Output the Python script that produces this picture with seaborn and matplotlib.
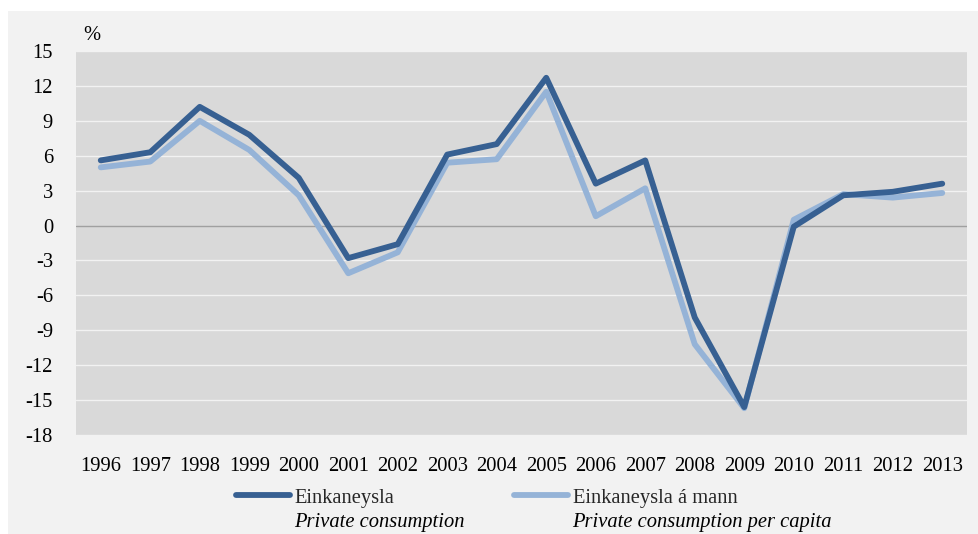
import matplotlib
matplotlib.use("Agg")
import matplotlib.pyplot as plt
import seaborn as sns
import pandas as pd
from matplotlib.patches import Rectangle
from matplotlib.lines import Line2D

years = list(range(1996, 2014))
einkaneysla = [5.6, 6.3, 10.2, 7.8, 4.1, -2.8, -1.6, 6.1, 7.0, 12.7, 3.6, 5.6, -7.9, -15.6, -0.1, 2.6, 2.9, 3.6]
einkaneysla_mann = [5.0, 5.5, 9.0, 6.5, 2.6, -4.1, -2.3, 5.4, 5.7, 11.5, 0.8, 3.2, -10.2, -15.7, 0.5, 2.7, 2.4, 2.8]
series_names = ["Einkaneysla", "Einkaneysla á mann"]
series_en = ["Private consumption", "Private consumption per capita"]
yticks = list(range(-18, 16, 3))

df = pd.DataFrame({
    "year": years * 2,
    "value": einkaneysla + einkaneysla_mann,
    "series": [series_names[0]] * len(years) + [series_names[1]] * len(years),
})

sns.set_theme(style="white")
plt.rcParams["font.family"] = ["Liberation Serif", "DejaVu Serif"]

W, H = 979, 534
FS = 14.8
fig = plt.figure(figsize=(W / 100, H / 100), dpi=100, facecolor="white")
fig.patches.append(Rectangle((8 / W, 0), 1 - 8 / W, 1 - 11 / H, transform=fig.transFigure,
                             facecolor="#f2f2f2", edgecolor="none", zorder=-10))

ax = fig.add_axes([76 / W, (H - 435) / H, (967 - 76) / W, (435 - 51) / H])
ax.set_facecolor("#d9d9d9")

for y in yticks:
    if y == 0:
        ax.axhline(y, color="#a0a0a0", lw=1.0, zorder=1)
    else:
        ax.axhline(y, color="#f2f2f2", lw=1.0, zorder=1)

palette = {series_names[0]: "#376092", series_names[1]: "#95b3d7"}
sns.lineplot(data=df, x="year", y="value", hue="series", palette=palette,
             hue_order=series_names[::-1], linewidth=4.2, ax=ax, zorder=3, legend=False)

ax.set_xlim(1995.5, 2013.5)
ax.set_ylim(-18, 15)
ax.set_yticks(yticks)
ax.set_yticklabels([str(v) for v in yticks])
ax.set_xticks(years)
ax.set_xticklabels([str(y) for y in years])
ax.tick_params(axis="both", length=0, labelsize=FS, colors="black")
ax.tick_params(axis="y", pad=16.5)
ax.tick_params(axis="x", pad=15.5)
ax.set_xlabel("")
ax.set_ylabel("")
for s in ax.spines.values():
    s.set_visible(False)

fig.text(83 / W, 1 - 36 / H, "%", fontsize=FS, ha="left", va="center", color="black")

# legend: one legend per series, with English italic subtitle beneath
handle_x = [236, 514]
text_x = [294, 572]
for name, en, hx, tx in zip(series_names, series_en, handle_x, text_x):
    h = Line2D([], [], color=palette[name], lw=4.2, solid_capstyle="round")
    fig.legend([h], [name], loc="center left", bbox_to_anchor=(hx / W, 1 - 498 / H),
               frameon=False, fontsize=FS, handlelength=2.65, handletextpad=0.2,
               borderpad=0, borderaxespad=0)
    fig.text(tx / W, 1 - 523 / H, en, fontsize=FS, style="italic", ha="left", va="center",
             color="black")

fig.savefig("out.png", dpi=100, facecolor="white")
